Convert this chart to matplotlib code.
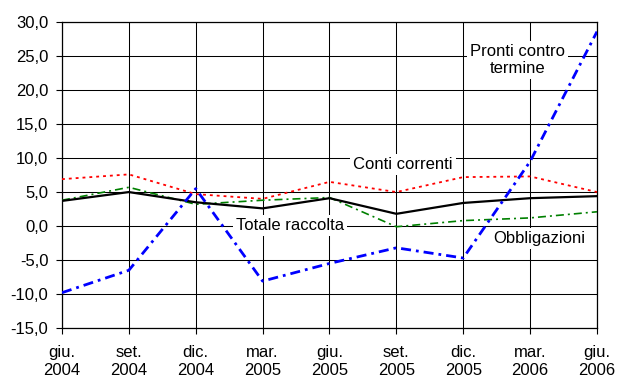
import matplotlib
matplotlib.use('Agg')
import matplotlib.pyplot as plt
from matplotlib.ticker import FuncFormatter, MultipleLocator

plt.rcParams['font.family'] = ['Liberation Sans', 'DejaVu Sans']

# trimestri
periodi = ['giu.\n2004', 'set.\n2004', 'dic.\n2004', 'mar.\n2005', 'giu.\n2005',
           'set.\n2005', 'dic.\n2005', 'mar.\n2006', 'giu.\n2006']

# variazioni percentuali sui dodici mesi
conti_correnti = [6.9, 7.6, 4.7, 4.0, 6.5, 5.0, 7.2, 7.3, 5.0]
totale_raccolta = [3.7, 5.0, 3.5, 2.6, 4.1, 1.8, 3.4, 4.1, 4.4]
obbligazioni = [3.8, 5.7, 3.2, 3.8, 4.2, -0.1, 0.8, 1.2, 2.1]
pronti_contro_termine = [-9.8, -6.5, 5.5, -8.1, -5.5, -3.2, -4.7, 9.5, 28.6]

x = list(range(len(periodi)))

fig = plt.figure(figsize=(6.18, 3.81), dpi=100)
ax = fig.add_axes([0.1003, 0.139, 0.8657, 0.803])

ax.plot(x, conti_correnti, color='#ff0000', linewidth=1.3,
        dashes=(1.6, 2.2), zorder=3)
ax.plot(x, obbligazioni, color='#008000', linewidth=1.2,
        dashes=(4.8, 2.4, 1.2, 2.4), zorder=3)
ax.plot(x, totale_raccolta, color='black', linewidth=1.6, zorder=4)
ax.plot(x, pronti_contro_termine, color='#0000ff', linewidth=2.0,
        dashes=(3.6, 1.8, 1.0, 1.8), zorder=5)

ax.set_xlim(0, len(periodi) - 1)
ax.set_ylim(-15, 30)
ax.yaxis.set_major_locator(MultipleLocator(5))
ax.yaxis.set_major_formatter(FuncFormatter(lambda v, p: f'{v:.1f}'.replace('.', ',')))
ax.set_xticks(x)
ax.set_xticklabels(periodi)

ax.grid(True, color='black', linewidth=0.75)
ax.set_axisbelow(True)
for s in ax.spines.values():
    s.set_linewidth(0.9)
    s.set_color('black')
ax.tick_params(axis='both', direction='out', length=4.3, width=0.8,
               labelsize=12, colors='black')
ax.tick_params(axis='y', pad=5.5)
ax.tick_params(axis='x', pad=8)

box = dict(facecolor='white', edgecolor='none', pad=2)
etichette = [
    ('Pronti contro\ntermine', 6.81, 24.4),
    ('Conti correnti', 5.1, 9.1),
    ('Totale raccolta', 3.41, 0.1),
    ('Obbligazioni', 7.14, -1.8),
]
for testo, ex, ey in etichette:
    ax.text(ex, ey, testo, ha='center', va='center', fontsize=12,
            color='black', bbox=box, zorder=6, linespacing=1.2)

plt.savefig('out.png', dpi=100)
plt.close()
